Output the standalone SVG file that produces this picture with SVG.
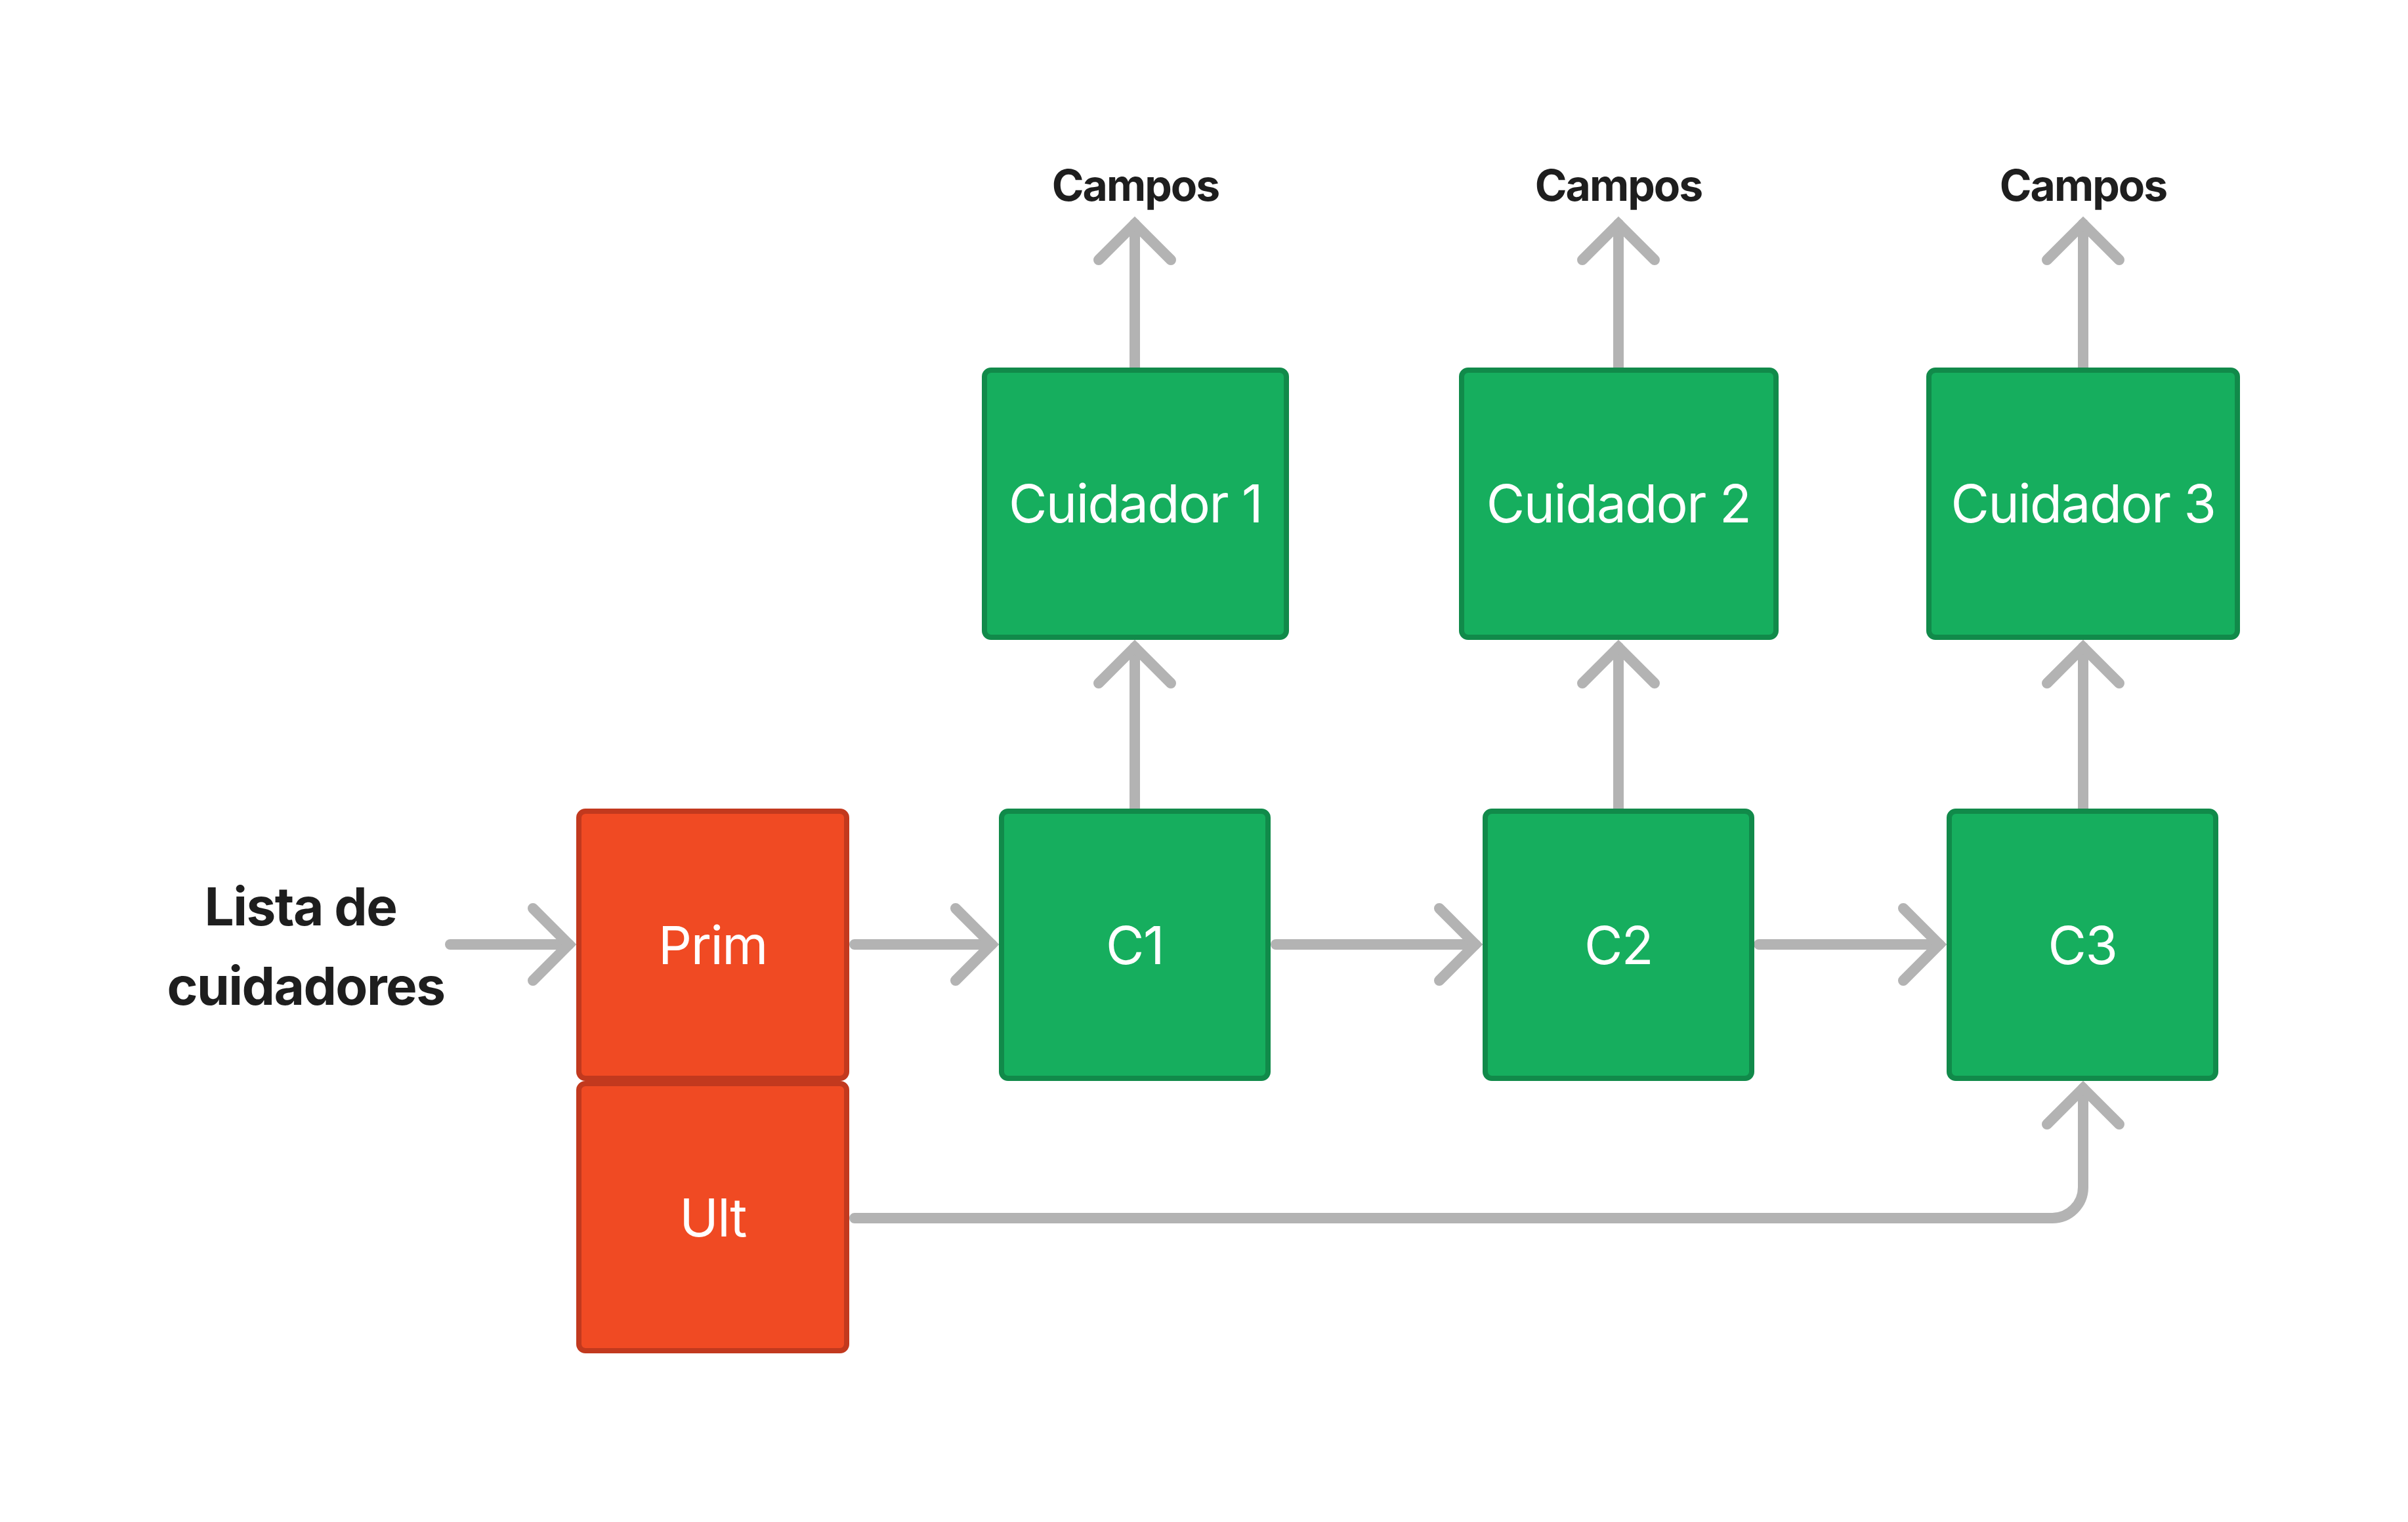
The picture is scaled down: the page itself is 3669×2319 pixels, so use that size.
<svg xmlns="http://www.w3.org/2000/svg" width="3669" height="2319" viewBox="0 0 3669 2319">
<style>
.bg{fill:#ffffff}
.green{fill:#16AE5E;stroke:#118A4A;stroke-width:8}
.red{fill:#F04A23;stroke:#C2391E;stroke-width:8}
.lbl{font-family:Inter,"Noto Sans","Liberation Sans",sans-serif;font-size:80px;letter-spacing:-1.5px;fill:#ffffff;text-anchor:middle}
.ttl{font-family:Inter,"Noto Sans","Liberation Sans",sans-serif;font-weight:700;fill:#1E1E1E;text-anchor:middle}
.con{fill:none;stroke:#B3B3B3;stroke-width:16;stroke-linecap:round;stroke-linejoin:round}
</style>
<defs>
<marker id="chev" markerUnits="userSpaceOnUse" viewBox="-80 -80 100 160" markerWidth="100" markerHeight="160" refX="0" refY="0" orient="auto" overflow="visible">
<path d="M-55,-55 L0,0 L-55,55" fill="none" stroke="#B3B3B3" stroke-width="16" stroke-linecap="round" stroke-linejoin="miter"/>
</marker>
</defs>
<rect class="bg" x="0" y="0" width="3669" height="2319"/>
<g id="connectors">
<path class="con" d="M686,1439 H867" marker-end="url(#chev)"/>
<path class="con" d="M1302,1439 H1511" marker-end="url(#chev)"/>
<path class="con" d="M1944,1439 H2248" marker-end="url(#chev)"/>
<path class="con" d="M2680,1439 H2955" marker-end="url(#chev)"/>
<path class="con" d="M1729,1232 V986" marker-end="url(#chev)"/>
<path class="con" d="M2466,1232 V986" marker-end="url(#chev)"/>
<path class="con" d="M3174,1232 V986" marker-end="url(#chev)"/>
<path class="con" d="M1729,560 V341" marker-end="url(#chev)"/>
<path class="con" d="M2466,560 V341" marker-end="url(#chev)"/>
<path class="con" d="M3174,560 V341" marker-end="url(#chev)"/>
<path class="con" d="M1302,1856 H3127 A47,47 0 0 0 3174,1809 V1658" marker-end="url(#chev)"/>
</g>
<g id="lista">
<text class="ttl" font-size="80" letter-spacing="-1.5" x="458" y="1410">Lista de</text>
<text class="ttl" font-size="80" letter-spacing="-1.5" x="466" y="1531">cuidadores</text>
</g>
<g id="campos1"><text class="ttl" font-size="66" letter-spacing="-2" x="1730" y="306">Campos</text></g>
<g id="campos2"><text class="ttl" font-size="66" letter-spacing="-2" x="2466" y="306">Campos</text></g>
<g id="campos3"><text class="ttl" font-size="66" letter-spacing="-2" x="3174" y="306">Campos</text></g>
<g id="cuidador1">
<rect class="green" x="1500" y="564" width="460" height="407" rx="10"/>
<text class="lbl" x="1730" y="796">Cuidador 1</text>
</g>
<g id="cuidador2">
<rect class="green" x="2227" y="564" width="479" height="407" rx="10"/>
<text class="lbl" x="2466" y="796">Cuidador 2</text>
</g>
<g id="cuidador3">
<rect class="green" x="2939" y="564" width="470" height="407" rx="10"/>
<text class="lbl" x="3174" y="796">Cuidador 3</text>
</g>
<g id="prim">
<rect class="red" x="882" y="1236" width="408" height="407" rx="10"/>
<text class="lbl" x="1086" y="1469">Prim</text>
</g>
<g id="ult">
<rect class="red" x="882" y="1651" width="408" height="407" rx="10"/>
<text class="lbl" x="1086" y="1884">Ult</text>
</g>
<g id="c1">
<rect class="green" x="1526" y="1236" width="406" height="407" rx="10"/>
<text class="lbl" x="1729" y="1469">C1</text>
</g>
<g id="c2">
<rect class="green" x="2263" y="1236" width="406" height="407" rx="10"/>
<text class="lbl" x="2466" y="1469">C2</text>
</g>
<g id="c3">
<rect class="green" x="2970" y="1236" width="406" height="407" rx="10"/>
<text class="lbl" x="3173" y="1469">C3</text>
</g>
</svg>
